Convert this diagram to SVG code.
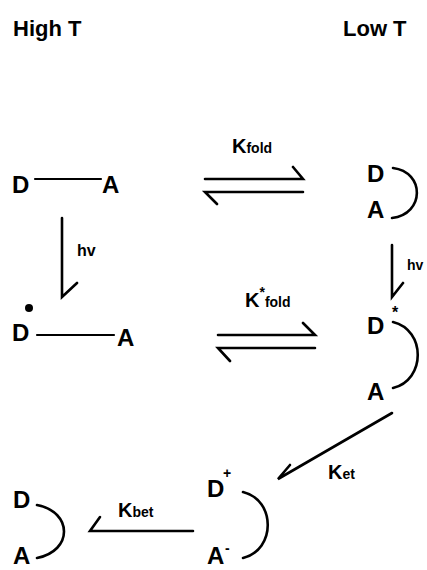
<svg xmlns="http://www.w3.org/2000/svg" width="427" height="570" viewBox="0 0 427 570">
<style>
text{font-family:"Liberation Sans",Arial,sans-serif;font-weight:bold;fill:#000}
.big{font-size:24px}
.hdr{font-size:22px}
.lbl{font-size:20px}
.sub{font-size:14px}
.hv{font-size:16px}
.ln{fill:none;stroke:#000;stroke-width:2.6;stroke-linecap:round;stroke-linejoin:miter}
.bond{fill:none;stroke:#000;stroke-width:2.2;stroke-linecap:round}
</style>
<rect width="427" height="570" fill="#fff"/>
<g id="headers">
<text class="hdr" x="13" y="36">High T</text>
<text class="hdr" x="343" y="36">Low T</text>
</g>
<g id="n1">
<text class="big" x="12" y="193">D</text>
<path class="bond" d="M35,179 H101"/>
<text class="big" x="102" y="193">A</text>
</g>
<g id="n2">
<text class="big" x="367" y="182">D</text>
<text class="big" x="367" y="218">A</text>
<path class="ln" d="M393,168 C425,172 425,214 392,218"/>
</g>
<g id="n3">
<circle cx="29" cy="308" r="4"/>
<text class="big" x="12" y="341">D</text>
<path class="bond" d="M37,335 H114"/>
<text class="big" x="117" y="346">A</text>
</g>
<g id="n4">
<text class="big" x="367" y="334">D</text>
<text class="sub" x="392" y="318" style="font-size:16px">*</text>
<text class="big" x="367" y="400">A</text>
<path class="ln" d="M393,322 C426,330 426,380 393,388"/>
</g>
<g id="n5">
<text class="big" x="207" y="497">D</text>
<text class="sub" x="223" y="478">+</text>
<text class="big" x="207" y="564">A</text>
<text class="sub" x="225" y="553">-</text>
<path class="ln" d="M243,492 C276,500 276,550 243,558"/>
</g>
<g id="n6">
<text class="big" x="13" y="508">D</text>
<text class="big" x="13" y="564">A</text>
<path class="ln" d="M37,505 C73,512 73,551 37,558"/>
</g>
<g id="connectors">
<path class="ln" d="M205,179 H303 L293,167"/>
<path class="ln" d="M303,192 H205 L217,204"/>
<path class="ln" d="M218,335 H315 L303,323"/>
<path class="ln" d="M315,348 H218 L230,361"/>
<path class="ln" d="M62,218 V297 L77,283"/>
<path class="ln" d="M392,245 V297 L403,283"/>
<path class="ln" d="M392,413 L278,479 L290,465"/>
<path class="ln" d="M193,531 H90 L100,517"/>
</g>
<g id="labels">
<text class="lbl" x="232" y="153">K<tspan class="sub">fold</tspan></text>
<text class="lbl" x="245" y="307">K<tspan class="sub" dy="-10">*</tspan><tspan class="sub" dy="10">fold</tspan></text>
<text class="hv" x="77" y="256">hv</text>
<text class="sub" x="407" y="270">hv</text>
<text class="lbl" x="328" y="479">K<tspan class="sub">et</tspan></text>
<text class="lbl" x="118" y="517">K<tspan class="sub">bet</tspan></text>
</g>
</svg>
